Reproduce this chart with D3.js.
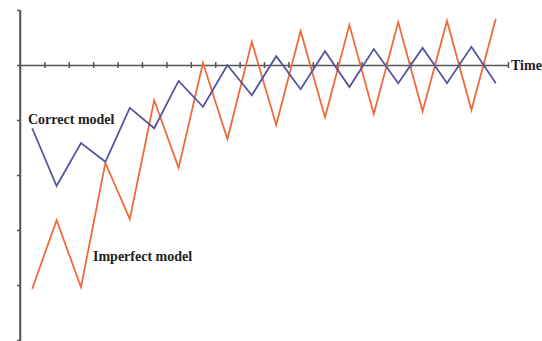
<!DOCTYPE html>
<html>
<head>
<meta charset="utf-8">
<script src="https://cdn.jsdelivr.net/npm/d3@7"></script>
<style>
  body { margin: 0; background: #fff; }
  svg text { font-family: "Liberation Serif", "Times New Roman", serif; font-weight: bold; fill: #222; }
</style>
</head>
<body>
<svg id="chart" width="542" height="341"></svg>
<script>
// time points (both series sampled at half steps)
const times = [0.5, 1.5, 2.5, 3.5, 4.5, 5.5, 6.5, 7.5, 8.5, 9.5,
               10.5, 11.5, 12.5, 13.5, 14.5, 15.5, 16.5, 17.5, 18.5, 19.5];
const correctModel = [-1.15, -2.2, -1.42, -1.76, -0.78, -1.15, -0.29, -0.76, 0, -0.55,
                      0.16, -0.44, 0.25, -0.4, 0.29, -0.33, 0.31, -0.33, 0.33, -0.33];
const imperfectModel = [-4.07, -2.82, -4.04, -1.78, -2.8, -0.64, -1.87, 0.04, -1.35, 0.42,
                        -1.09, 0.62, -0.95, 0.73, -0.89, 0.78, -0.84, 0.8, -0.82, 0.84];
const xTicks = [1, 2, 3, 4, 5, 6, 7, 8, 9, 10, 11, 12, 13, 14, 15, 16, 17, 18, 19, 20];
const yTicks = [-5, -4, -3, -2, -1, 0, 1];

const svg = d3.select("#chart");

// scales
const x = d3.scaleLinear().domain([0, 20]).range([20, 508]);
const y = d3.scaleLinear().domain([-5, 1]).range([340, 10]);

// y axis
const yAxis = g => g
  .attr("transform", "translate(" + x(0) + ",0)")
  .call(d3.axisLeft(y).tickValues(yTicks).tickSize(3).tickSizeOuter(0).tickFormat(""));
svg.append("g").call(yAxis);

// x axis through zero, ticks crossing the line
const xAxis = g => g
  .attr("transform", "translate(0," + y(0) + ")")
  .call(d3.axisBottom(x).tickValues(xTicks).tickSizeOuter(0).tickFormat(""));
const gx = svg.append("g").call(xAxis);
gx.selectAll(".tick line").attr("y1", -3).attr("y2", 3);

svg.selectAll(".domain, .tick line").attr("stroke", "#555").attr("stroke-width", 1.5);
svg.append("line")
  .attr("x1", x(0)).attr("x2", x(0))
  .attr("y1", y(1)).attr("y2", 341)
  .attr("stroke", "#555").attr("stroke-width", 1.5);

// lines
const line = vals => d3.line()
  .x((d, i) => x(times[i]))
  .y(d => y(d))(vals);

svg.append("path")
  .attr("d", line(imperfectModel))
  .attr("fill", "none")
  .attr("stroke", "#ef6a3a")
  .attr("stroke-width", 1.8);

svg.append("path")
  .attr("d", line(correctModel))
  .attr("fill", "none")
  .attr("stroke", "#55559e")
  .attr("stroke-width", 1.8);

// labels
svg.append("text").attr("x", 28).attr("y", 124).attr("font-size", 14).text("Correct model");
svg.append("text").attr("x", 93).attr("y", 261).attr("font-size", 14).text("Imperfect model");
svg.append("text").attr("x", 511).attr("y", 70).attr("font-size", 14).text("Time");
</script>
</body>
</html>
